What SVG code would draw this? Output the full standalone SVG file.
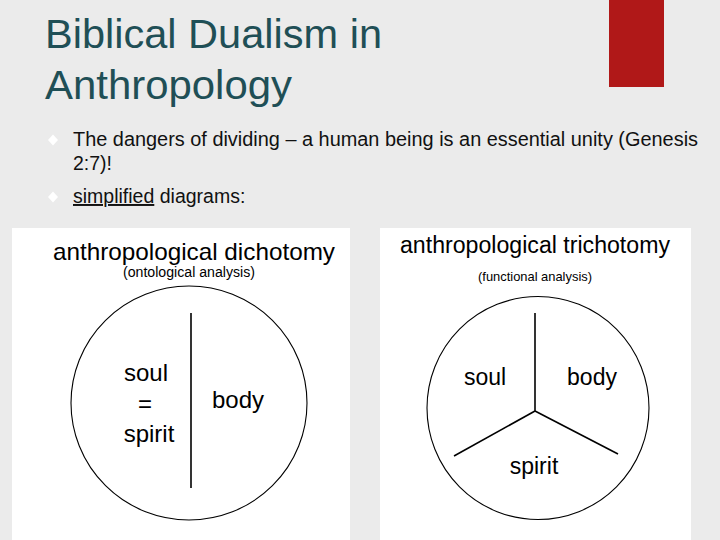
<svg xmlns="http://www.w3.org/2000/svg" width="720" height="540" viewBox="0 0 720 540">
<style>
.title{font-family:"Liberation Sans",Arial,sans-serif;font-size:41px;fill:#1f4f56}
.body{font-family:"Liberation Sans",Arial,sans-serif;font-size:19.5px;fill:#111}
.dg{font-family:"Liberation Sans",Arial,sans-serif;fill:#000}
.line{stroke:#000;stroke-width:1.6;fill:none}
.circ{stroke:#000;stroke-width:1.1;fill:#fff}
</style>
<rect width="720" height="540" fill="#ebebeb"/>
<rect x="609" y="0" width="55" height="87" fill="#b01818"/>
<g id="title">
<text class="title" x="45" y="48" textLength="337" lengthAdjust="spacingAndGlyphs">Biblical Dualism in</text>
<text class="title" x="45" y="99" textLength="247" lengthAdjust="spacingAndGlyphs">Anthropology</text>
</g>
<g id="bullets">
<path d="M53 134.5 L58 140 L53 145.5 L48 140 Z" fill="#fff"/>
<path d="M53 191.5 L58 197 L53 202.5 L48 197 Z" fill="#fff"/>
<text class="body" x="73" y="146" textLength="625" lengthAdjust="spacingAndGlyphs">The dangers of dividing – a human being is an essential unity (Genesis</text>
<text class="body" x="73" y="170">2:7)!</text>
<text class="body" x="73" y="203"><tspan text-decoration="underline">simplified</tspan> diagrams:</text>
</g>
<g id="dichotomy">
<rect x="12" y="228" width="338" height="312" fill="#fff"/>
<text class="dg" x="194" y="260" font-size="24" text-anchor="middle" textLength="282" lengthAdjust="spacingAndGlyphs">anthropological dichotomy</text>
<text class="dg" x="189" y="277" font-size="14" text-anchor="middle" textLength="132" lengthAdjust="spacingAndGlyphs">(ontological analysis)</text>
<ellipse class="circ" cx="189" cy="403" rx="118" ry="117"/>
<g id="dich-connectors"><line class="line" x1="191" y1="313" x2="191" y2="488"/></g>
<g id="dich-soul"><text class="dg" x="146" y="381" font-size="24" text-anchor="middle">soul</text>
<text class="dg" x="145" y="412" font-size="24" text-anchor="middle">=</text>
<text class="dg" x="149" y="442" font-size="24" text-anchor="middle">spirit</text></g>
<g id="dich-body"><text class="dg" x="238" y="408" font-size="24" text-anchor="middle">body</text></g>
</g>
<g id="trichotomy">
<rect x="380" y="228" width="311" height="312" fill="#fff"/>
<text class="dg" x="535" y="253" font-size="23" text-anchor="middle" textLength="270" lengthAdjust="spacingAndGlyphs">anthropological trichotomy</text>
<text class="dg" x="535" y="281" font-size="13" text-anchor="middle" textLength="114" lengthAdjust="spacingAndGlyphs">(functional analysis)</text>
<ellipse class="circ" cx="538" cy="408" rx="111" ry="111.5"/>
<g id="tri-connectors">
<line class="line" x1="535" y1="313" x2="535" y2="411"/>
<line class="line" x1="535" y1="411" x2="454" y2="456"/>
<line class="line" x1="535" y1="411" x2="618" y2="454"/>
</g>
<g id="tri-soul"><text class="dg" x="485" y="385" font-size="23" text-anchor="middle">soul</text></g>
<g id="tri-body"><text class="dg" x="592" y="385" font-size="23" text-anchor="middle">body</text></g>
<g id="tri-spirit"><text class="dg" x="534" y="474" font-size="23" text-anchor="middle">spirit</text></g>
</g>
</svg>
